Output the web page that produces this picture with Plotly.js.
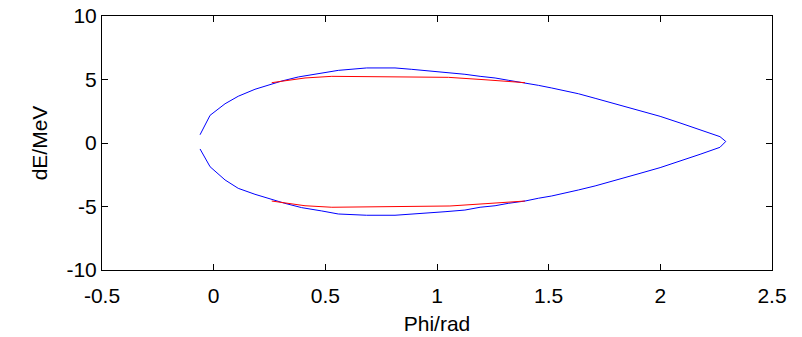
<!DOCTYPE html>
<html>
<head>
<meta charset="utf-8">
<script src="https://cdn.plot.ly/plotly-3.0.1.min.js"></script>
<style>html,body{margin:0;padding:0;background:#fff;}#plot{width:802px;height:337px;}</style>
</head>
<body>
<div id="plot"></div>
<script>
// Blue boundary: upper arc (left to right), then lower arc (right to left)
const bluePhi = [-0.061,-0.016,0.051,0.110,0.185,0.245,0.305,0.379,0.484,0.558,0.685,0.812,0.887,1.036,1.125,1.193,1.260,1.319,1.394,1.454,1.514,1.573,1.633,1.708,1.819,1.909,1.999,2.088,2.178,2.267,2.293,
                 2.267,2.178,2.088,1.999,1.909,1.819,1.708,1.633,1.573,1.514,1.454,1.394,1.319,1.260,1.193,1.125,1.036,0.887,0.812,0.685,0.558,0.484,0.394,0.319,0.245,0.185,0.110,0.051,-0.016,-0.061];
const blueDE  = [0.65,2.18,3.09,3.68,4.23,4.54,4.88,5.20,5.51,5.72,5.91,5.91,5.80,5.59,5.41,5.25,5.12,4.94,4.75,4.54,4.33,4.12,3.88,3.52,2.98,2.52,2.10,1.58,1.04,0.50,0.12,
                 -0.34,-0.89,-1.42,-1.94,-2.39,-2.86,-3.38,-3.70,-3.96,-4.17,-4.35,-4.57,-4.75,-4.94,-5.06,-5.28,-5.41,-5.59,-5.69,-5.69,-5.59,-5.35,-5.09,-4.75,-4.35,-4.04,-3.57,-2.91,-1.87,-0.47];
// Red inner arcs
const redUpPhi = [0.260,0.334,0.409,0.529,1.051,1.215,1.319,1.394];
const redUpDE  = [4.75,4.94,5.12,5.25,5.17,4.98,4.86,4.75];
const redLoPhi = [0.260,0.334,0.409,0.529,1.058,1.215,1.327,1.394];
const redLoDE  = [-4.57,-4.75,-4.94,-5.06,-4.96,-4.78,-4.62,-4.57];

const xTicks = [-0.5,0,0.5,1,1.5,2,2.5];
const xTickText = ['-0.5','0','0.5','1','1.5','2','2.5'];
const yTicks = [-10,-5,0,5,10];
const yTickText = ['-10','-5','0','5','10'];

const FONT = 'Liberation Sans, Arial, sans-serif';
const traces = [
  {x: bluePhi, y: blueDE, mode:'lines', line:{color:'#0000ff', width:1}, hoverinfo:'skip'},
  {x: redUpPhi, y: redUpDE, mode:'lines', line:{color:'#ff0000', width:1}, hoverinfo:'skip'},
  {x: redLoPhi, y: redLoDE, mode:'lines', line:{color:'#ff0000', width:1}, hoverinfo:'skip'}
];
const axisCommon = {
  showgrid:false, zeroline:false, showline:true, mirror:'ticks', linecolor:'#000', linewidth:1,
  ticks:'inside', ticklen:6, tickcolor:'#000', tickwidth:1,
  tickfont:{family:FONT, size:21, color:'#000'}
};
const layout = {
  width:802, height:337,
  margin:{l:102, r:30, t:16, b:67},
  paper_bgcolor:'#fff', plot_bgcolor:'#fff',
  showlegend:false,
  xaxis: Object.assign({}, axisCommon, {
    range:[-0.5,2.5], tickvals:xTicks, ticktext:xTickText, ticklabelstandoff:7,
    title:{text:'Phi/rad', font:{family:FONT, size:21, color:'#000'}, standoff:10}
  }),
  yaxis: Object.assign({}, axisCommon, {
    range:[-10,10], tickvals:yTicks, ticktext:yTickText,
    title:{text:'dE/MeV', font:{family:FONT, size:21, color:'#000'}, standoff:13}
  })
};
Plotly.newPlot('plot', traces, layout, {staticPlot:true, displayModeBar:false});
</script>
</body>
</html>
